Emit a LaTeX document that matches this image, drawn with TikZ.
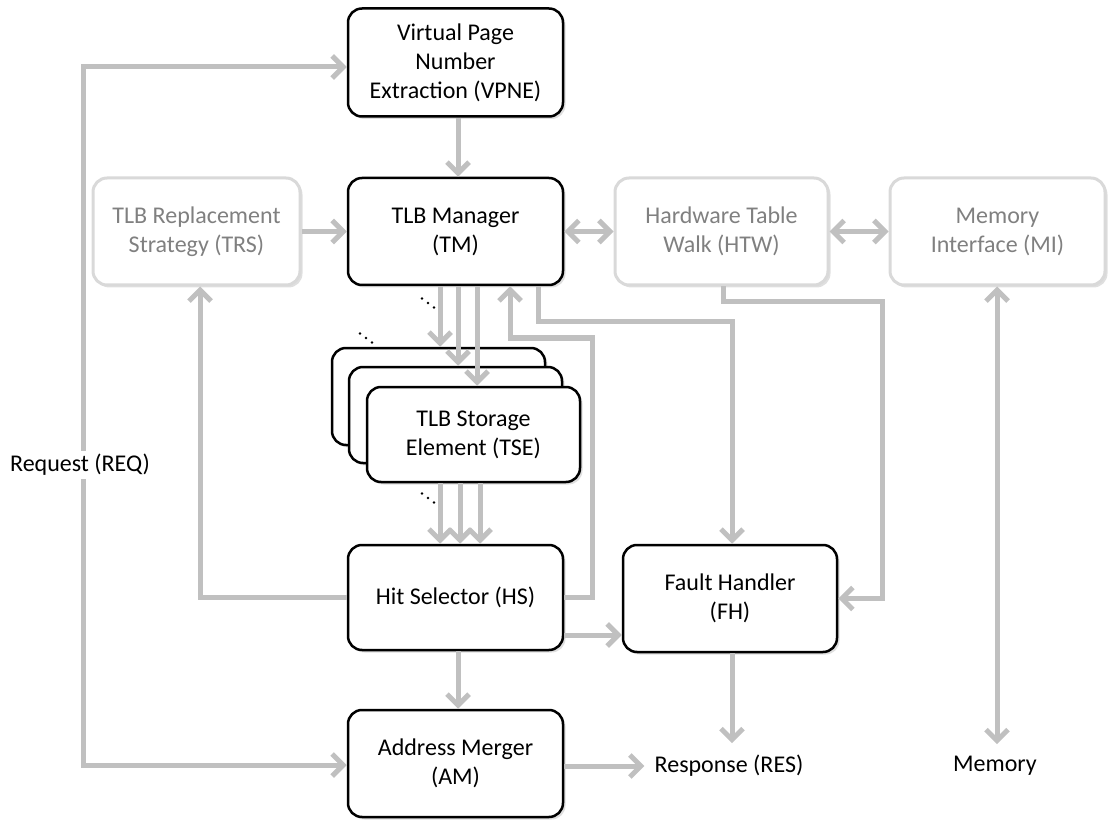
\documentclass[tikz,border=0pt]{standalone}
\usepackage{fontspec}
\setmainfont{Carlito}
\usetikzlibrary{arrows.meta,shadows,calc}
\definecolor{conn}{HTML}{C0C0C0}
\definecolor{dimline}{HTML}{D9D9D9}
\definecolor{dimtext}{HTML}{808080}
\tikzset{
 blk/.style={draw=black,line width=2.5pt,rounded corners=14pt,fill=white,align=center,
   font=\fontsize{24}{29}\selectfont,inner sep=0pt,
   drop shadow={shadow xshift=2.5pt,shadow yshift=-2.5pt,opacity=0.25}},
 dimbox/.style={blk,draw=dimline,text=dimtext,line width=3pt},
 wire/.style={draw=conn,line width=5pt},
 arr/.style={wire,-{Straight Barb[length=11pt,width=22pt]}},
 darr/.style={wire,{Straight Barb[length=11pt,width=22pt]}-{Straight Barb[length=11pt,width=22pt]}},
 lbl/.style={font=\fontsize{24}{29}\selectfont,inner sep=1pt},
 term/.style={lbl,inner xsep=10pt,inner ysep=12pt},
 dotmark/.style={fill=black,draw=none,circle,inner sep=0pt,minimum size=2.8pt},
}
\begin{document}
\begin{tikzpicture}[x=1pt,y=-1pt]
\useasboundingbox (0,0) rectangle (1112,821);
% boxes
\node[blk,minimum width=215pt,minimum height=108pt] (vpne) at (455.5,62.5) {Virtual Page\\Number\\Extraction (VPNE)};
\node[blk,minimum width=215pt,minimum height=107pt] (tm) at (455.5,231.5) {TLB Manager\\(TM)};
\node[dimbox,minimum width=207pt,minimum height=107pt] (trs) at (196.5,231.5) {TLB Replacement\\Strategy (TRS)};
\node[dimbox,minimum width=213pt,minimum height=107pt] (htw) at (721.5,231.5) {Hardware Table\\Walk (HTW)};
\node[dimbox,minimum width=215pt,minimum height=107pt] (mi) at (997.5,231.5) {Memory\\Interface (MI)};
\node[blk,minimum width=213pt,minimum height=97pt] (tse3) at (438.5,396.5) {};
\node[blk,minimum width=213pt,minimum height=96pt] (tse2) at (455.5,415) {};
\node[blk,minimum width=213pt,minimum height=95pt] (tse1) at (473.5,434.5) {TLB Storage\\Element (TSE)};
\node[blk,minimum width=215pt,minimum height=105pt] (hs) at (455.5,597.5) {Hit Selector (HS)};
\node[blk,minimum width=214pt,minimum height=107pt] (fh) at (730,598.5) {Fault Handler\\(FH)};
\node[blk,minimum width=215pt,minimum height=107pt] (am) at (455.5,763.5) {Address Merger\\(AM)};
\node[term] (res) at (729,766) {Response (RES)};
\node[term] (mem) at (995,766) {Memory};
% helper coordinates
\coordinate (rqt) at (83,67);
\coordinate (rqb) at (83,765);
\coordinate (xa) at (458,0);
\coordinate (xm1) at (440,0);
\coordinate (xm2) at (458,0);
\coordinate (xm3) at (477,0);
\coordinate (xs1) at (440,0);
\coordinate (xs2) at (460,0);
\coordinate (xs3) at (480,0);
\coordinate (xfb) at (510,0);
\coordinate (fbc) at (592,338);
\coordinate (xtf) at (538,0);
\coordinate (tfc) at (732,322);
\coordinate (xhw) at (723,0);
\coordinate (hwc) at (882,302);
\coordinate (xtr) at (200,0);
\coordinate (yhf) at (0,635);
\coordinate (xmem) at (997,0);
% connectors
\draw[darr] (vpne.west |- rqt) -- (rqt) -- (rqb) -- (am.west |- rqb);
\node[lbl,fill=white,inner sep=3pt] (req) at (80,465) {Request (REQ)};
\draw[arr] (vpne.south -| xa) -- (tm.north -| xa);
\draw[arr] (trs.east) -- (tm.west);
\draw[darr] (tm.east) -- (htw.west);
\draw[darr] (htw.east) -- (mi.west);
\draw[darr] (mi.south -| xmem) -- (mem.north -| xmem);
\draw[arr] (tm.south -| xm1) -- (tse3.north -| xm1);
\draw[arr] (tm.south -| xm2) -- (tse2.north -| xm2);
\draw[arr] (tm.south -| xm3) -- (tse1.north -| xm3);
\draw[arr] (tse1.south -| xs1) -- (hs.north -| xs1);
\draw[arr] (tse1.south -| xs2) -- (hs.north -| xs2);
\draw[arr] (tse1.south -| xs3) -- (hs.north -| xs3);
\draw[arr] (hs.south -| xa) -- (am.north -| xa);
\draw[arr] (am.east |- res) -- (res.west);
\draw[arr] (hs.east |- yhf) -- (fh.west |- yhf);
\draw[arr] (fh.south -| tfc) -- (res.north -| tfc);
\draw[arr] (tm.south -| xtf) |- (tfc) -- (fh.north -| tfc);
\draw[arr] (htw.south -| xhw) |- (hwc) |- (fh.east);
\draw[arr] (hs.east) -| (fbc) -| (tm.south -| xfb);
\draw[arr] (hs.west) -| (trs.south -| xtr);
% ellipsis dots
\foreach \cx/\cy [count=\i] in {428/303, 366/338, 428/498}{
  \node[dotmark] (da\i) at (\cx-6,\cy-4.5) {};
  \node[dotmark] (db\i) at (\cx,\cy) {};
  \node[dotmark] (dc\i) at (\cx+6,\cy+4.5) {};
}
\end{tikzpicture}
\end{document}
